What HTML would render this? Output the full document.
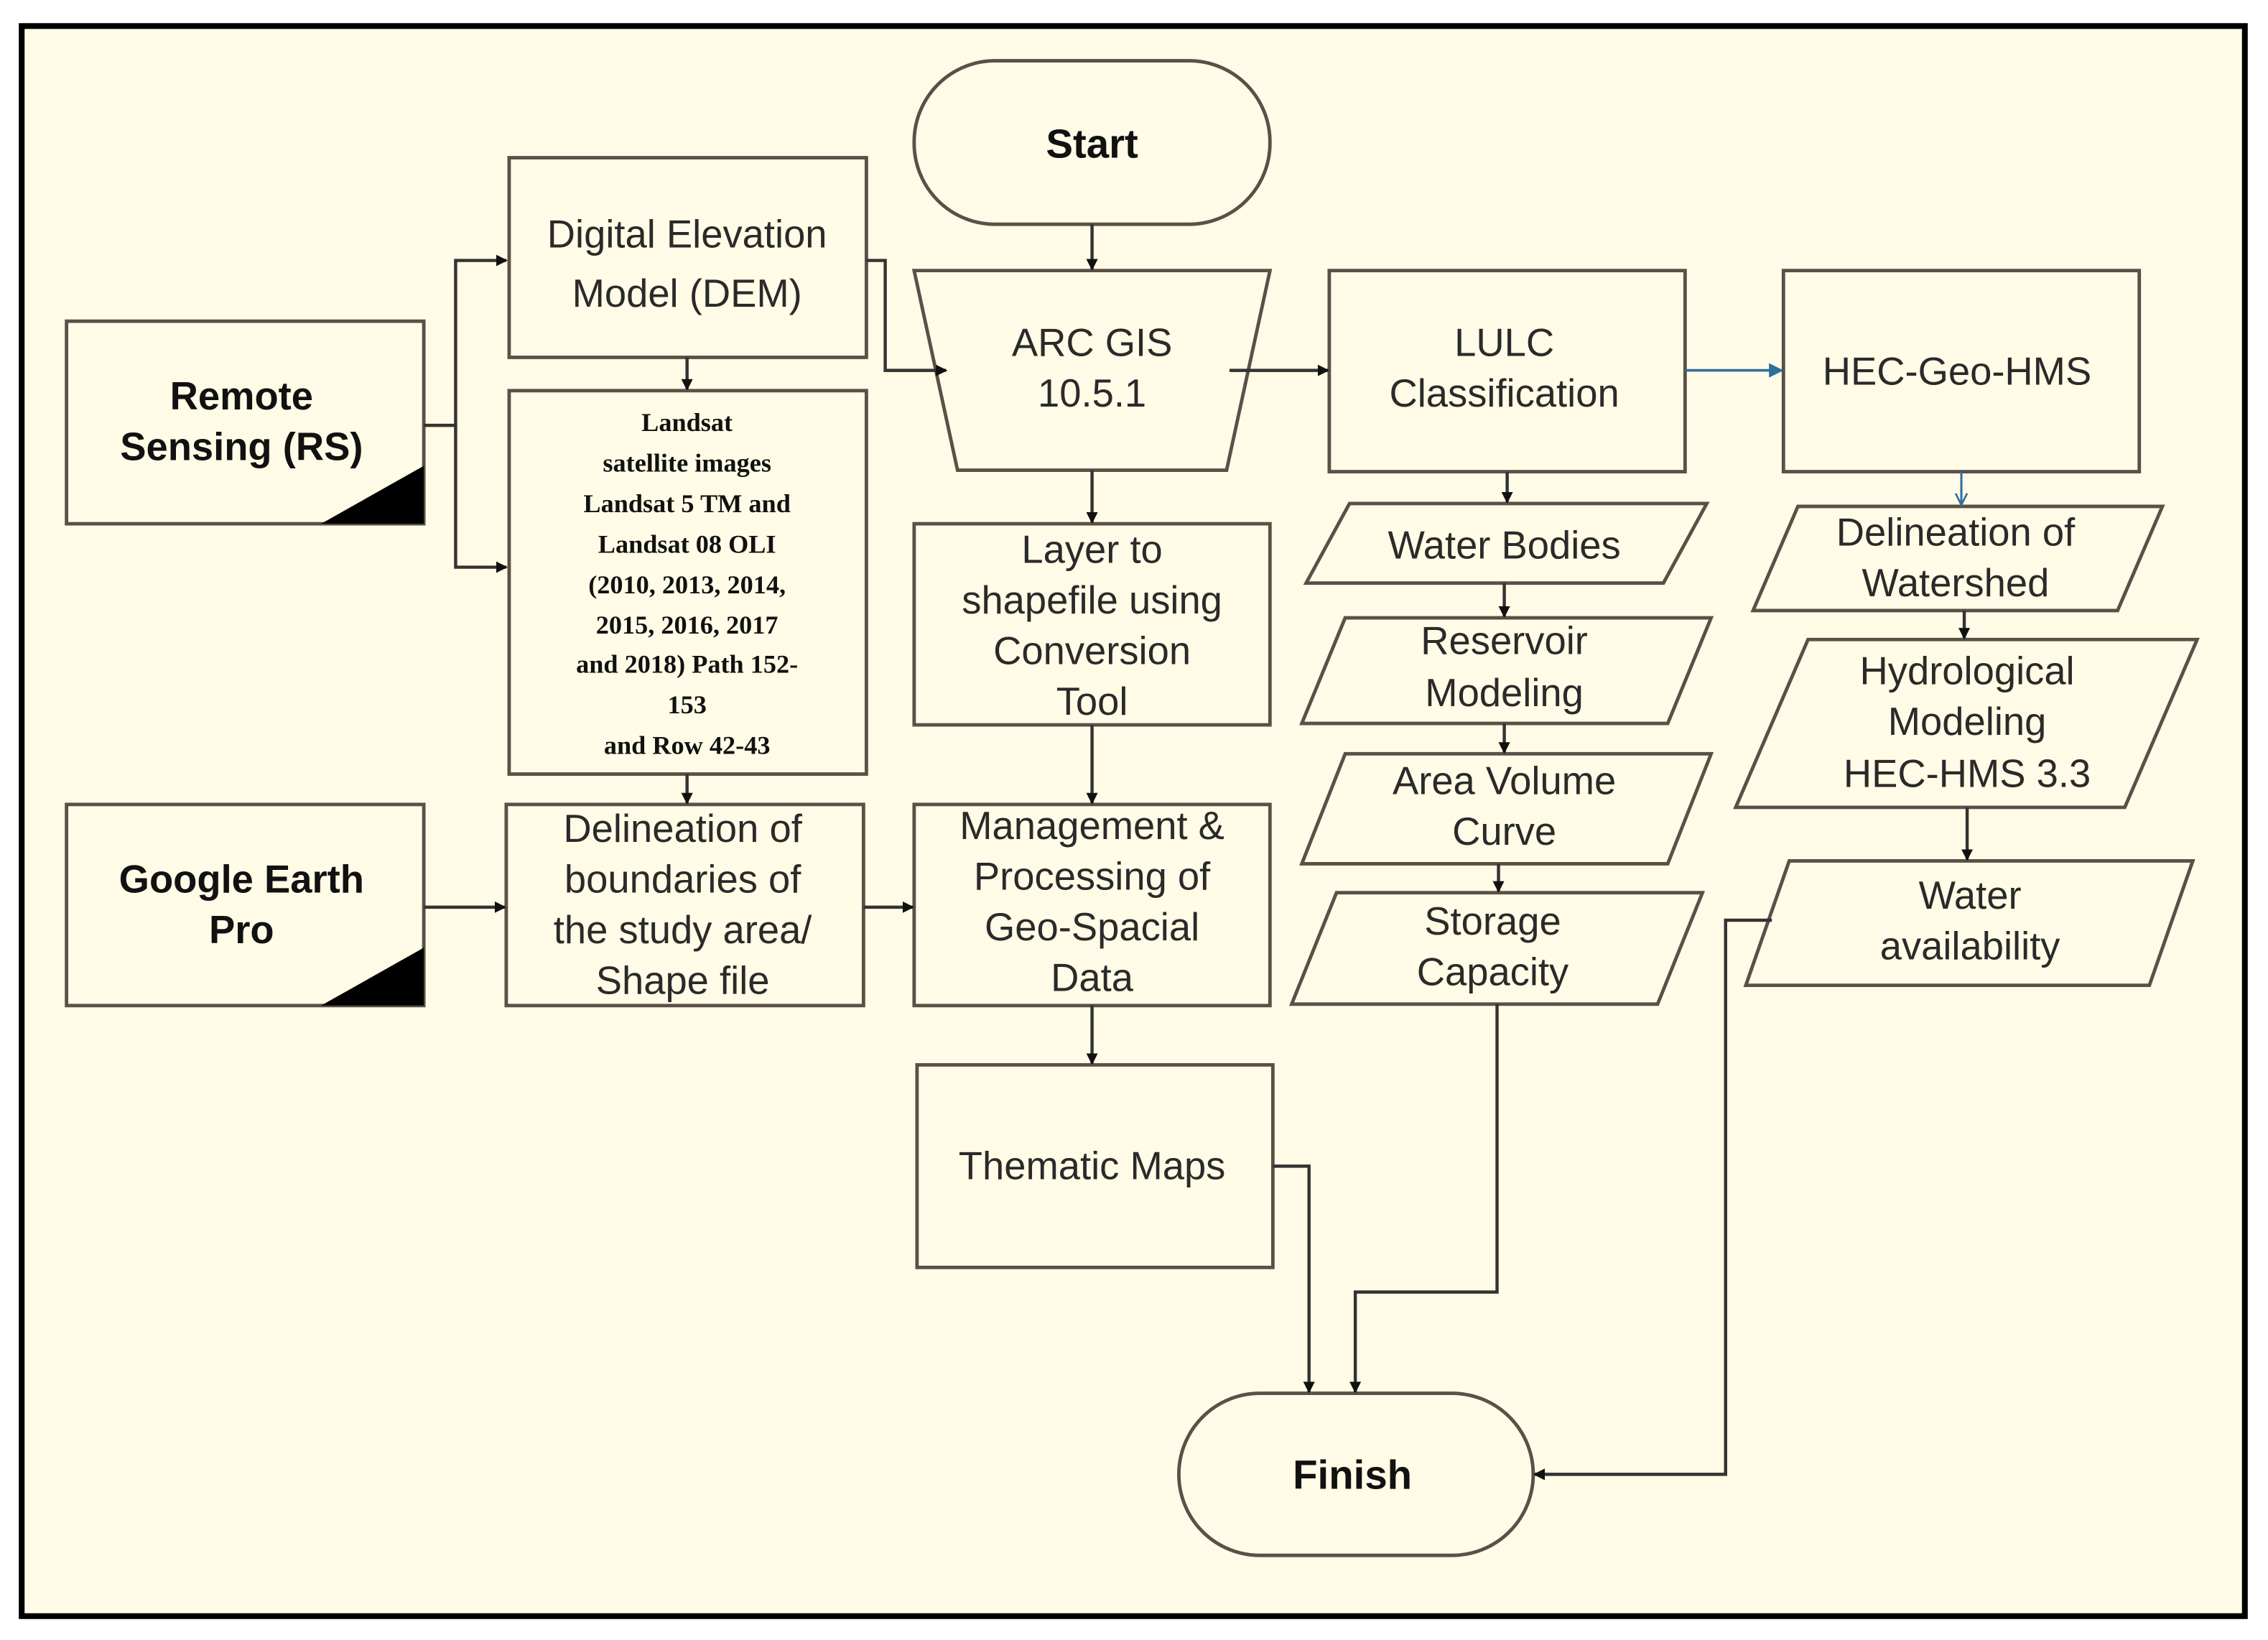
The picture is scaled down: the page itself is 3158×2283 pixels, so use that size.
<!DOCTYPE html>
<html><head><meta charset="utf-8"><style>
html,body{margin:0;padding:0;background:#fff}
svg{display:block}
text{font-family:"Liberation Sans",Arial,sans-serif;fill:#2a2a2a;text-anchor:middle}
.b{font-weight:bold;fill:#111}
.s{font-family:"Liberation Serif",serif;font-weight:bold;font-size:18px;fill:#111}
.box{fill:#fffbe6;stroke:#5a5048;stroke-width:2.4}
.ln{fill:none;stroke:#333;stroke-width:2.2}
</style></head><body>
<svg width="3158" height="2283" viewBox="0 0 1568 1133.5" preserveAspectRatio="none" xmlns="http://www.w3.org/2000/svg">
<defs>
<marker id="a" markerWidth="8" markerHeight="8" refX="7" refY="4" orient="auto" markerUnits="userSpaceOnUse"><path d="M0,0 L8,4 L0,8 z" fill="#111"/></marker>
<marker id="ab" markerWidth="10" markerHeight="10" refX="9" refY="5" orient="auto" markerUnits="userSpaceOnUse"><path d="M0,0 L10,5 L0,10 z" fill="#2e6e9e"/></marker>
<marker id="ao" markerWidth="10" markerHeight="10" refX="9" refY="5" orient="auto" markerUnits="userSpaceOnUse"><path d="M1,1 L9,5 L1,9" fill="none" stroke="#2e6e9e" stroke-width="1.3"/></marker>
</defs>
<rect x="0" y="0" width="1568" height="1133.5" fill="#fff"/>
<rect x="15" y="18" width="1537" height="1099" fill="#fffbe6" stroke="#000" stroke-width="4"/>

<!-- Start / Finish -->
<rect class="box" x="632" y="42" width="246" height="113" rx="56"/>
<text class="b" x="755" y="109" font-size="28">Start</text>
<rect class="box" x="815" y="963" width="245" height="112" rx="56"/>
<text class="b" x="935" y="1029" font-size="28">Finish</text>

<!-- Remote sensing -->
<rect class="box" x="46" y="222" width="247" height="140"/>
<polygon points="222,362 293,362 293,322" fill="#000"/>
<text class="b" x="167" y="283" font-size="27">Remote</text>
<text class="b" x="167" y="318" font-size="27">Sensing (RS)</text>
<!-- Google Earth -->
<rect class="box" x="46" y="556" width="247" height="139"/>
<polygon points="222,695 293,695 293,655" fill="#000"/>
<text class="b" x="167" y="617" font-size="27">Google Earth</text>
<text class="b" x="167" y="652" font-size="27">Pro</text>

<!-- DEM -->
<rect class="box" x="352" y="109" width="247" height="138"/>
<text x="475" y="171" font-size="27">Digital Elevation</text>
<text x="475" y="212" font-size="27">Model (DEM)</text>
<!-- Landsat -->
<rect class="box" x="352" y="270" width="247" height="265"/>
<text class="s" x="475" y="298">Landsat</text>
<text class="s" x="475" y="326">satellite images</text>
<text class="s" x="475" y="354">Landsat 5 TM and</text>
<text class="s" x="475" y="382">Landsat 08 OLI</text>
<text class="s" x="475" y="410">(2010, 2013, 2014,</text>
<text class="s" x="475" y="438">2015, 2016, 2017</text>
<text class="s" x="475" y="465">and 2018) Path 152-</text>
<text class="s" x="475" y="493">153</text>
<text class="s" x="475" y="521">and Row 42-43</text>
<!-- Delineation boundaries -->
<rect class="box" x="350" y="556" width="247" height="139"/>
<text x="472" y="582" font-size="27">Delineation of</text>
<text x="472" y="617" font-size="27">boundaries of</text>
<text x="472" y="652" font-size="27">the study area/</text>
<text x="472" y="687" font-size="27">Shape file</text>

<!-- ARC GIS -->
<polygon class="box" points="632,187 878,187 848,325 662,325"/>
<text x="755" y="246" font-size="27">ARC GIS</text>
<text x="755" y="281" font-size="27">10.5.1</text>
<rect class="box" x="632" y="362" width="246" height="139"/>
<text x="755" y="389" font-size="27">Layer to</text>
<text x="755" y="424" font-size="27">shapefile using</text>
<text x="755" y="459" font-size="27">Conversion</text>
<text x="755" y="494" font-size="27">Tool</text>
<rect class="box" x="632" y="556" width="246" height="139"/>
<text x="755" y="580" font-size="27">Management &amp;</text>
<text x="755" y="615" font-size="27">Processing of</text>
<text x="755" y="650" font-size="27">Geo-Spacial</text>
<text x="755" y="685" font-size="27">Data</text>
<rect class="box" x="634" y="736" width="246" height="140"/>
<text x="755" y="815" font-size="27">Thematic Maps</text>

<!-- LULC column -->
<rect class="box" x="919" y="187" width="246" height="139"/>
<text x="1040" y="246" font-size="27">LULC</text>
<text x="1040" y="281" font-size="27">Classification</text>
<polygon class="box" points="933,348 1180,348 1150,403 903,403"/>
<text x="1040" y="386" font-size="27">Water Bodies</text>
<polygon class="box" points="930,427 1183,427 1153,500 900,500"/>
<text x="1040" y="452" font-size="27">Reservoir</text>
<text x="1040" y="488" font-size="27">Modeling</text>
<polygon class="box" points="930,521 1183,521 1153,597 900,597"/>
<text x="1040" y="549" font-size="27">Area Volume</text>
<text x="1040" y="584" font-size="27">Curve</text>
<polygon class="box" points="924,617 1177,617 1146,694 893,694"/>
<text x="1032" y="646" font-size="27">Storage</text>
<text x="1032" y="681" font-size="27">Capacity</text>

<!-- HEC column -->
<rect class="box" x="1233" y="187" width="246" height="139"/>
<text x="1353" y="266" font-size="27">HEC-Geo-HMS</text>
<polygon class="box" points="1243,350 1495,350 1464,422 1212,422"/>
<text x="1352" y="377" font-size="27">Delineation of</text>
<text x="1352" y="412" font-size="27">Watershed</text>
<polygon class="box" points="1250,442 1519,442 1469,558 1200,558"/>
<text x="1360" y="473" font-size="27">Hydrological</text>
<text x="1360" y="508" font-size="27">Modeling</text>
<text x="1360" y="544" font-size="27">HEC-HMS 3.3</text>
<polygon class="box" points="1237,595 1516,595 1486,681 1207,681"/>
<text x="1362" y="628" font-size="27">Water</text>
<text x="1362" y="663" font-size="27">availability</text>

<!-- connectors -->
<path class="ln" d="M293,294 H315 V180 H350" marker-end="url(#a)"/>
<path class="ln" d="M315,294 V392 H350" marker-end="url(#a)"/>
<path class="ln" d="M475,247 V269" marker-end="url(#a)"/>
<path class="ln" d="M475,535 V555" marker-end="url(#a)"/>
<path class="ln" d="M599,180 H612 V256 H654" marker-end="url(#a)"/>
<path class="ln" d="M755,155 V186" marker-end="url(#a)"/>
<path class="ln" d="M755,325 V361" marker-end="url(#a)"/>
<path class="ln" d="M755,501 V555" marker-end="url(#a)"/>
<path class="ln" d="M755,695 V735" marker-end="url(#a)"/>
<path class="ln" d="M293,627 H349" marker-end="url(#a)"/>
<path class="ln" d="M597,627 H631" marker-end="url(#a)"/>
<path class="ln" d="M850,256 H918" marker-end="url(#a)"/>
<path d="M1165,256 H1232" fill="none" stroke="#2e6e9e" stroke-width="1.8" marker-end="url(#ab)"/>
<path class="ln" d="M1042,326 V347" marker-end="url(#a)"/>
<path class="ln" d="M1040,403 V426" marker-end="url(#a)"/>
<path class="ln" d="M1040,500 V520" marker-end="url(#a)"/>
<path class="ln" d="M1036,597 V616" marker-end="url(#a)"/>
<path d="M1356,326 V349" fill="none" stroke="#2e6e9e" stroke-width="1.5" marker-end="url(#ao)"/>
<path class="ln" d="M1358,422 V441" marker-end="url(#a)"/>
<path class="ln" d="M1360,558 V594" marker-end="url(#a)"/>
<path class="ln" d="M880,806 H905 V962" marker-end="url(#a)"/>
<path class="ln" d="M1035,694 V893 H937 V962" marker-end="url(#a)"/>
<path class="ln" d="M1225,636 H1193 V1019 H1061" marker-end="url(#a)"/>
</svg>
</body></html>
